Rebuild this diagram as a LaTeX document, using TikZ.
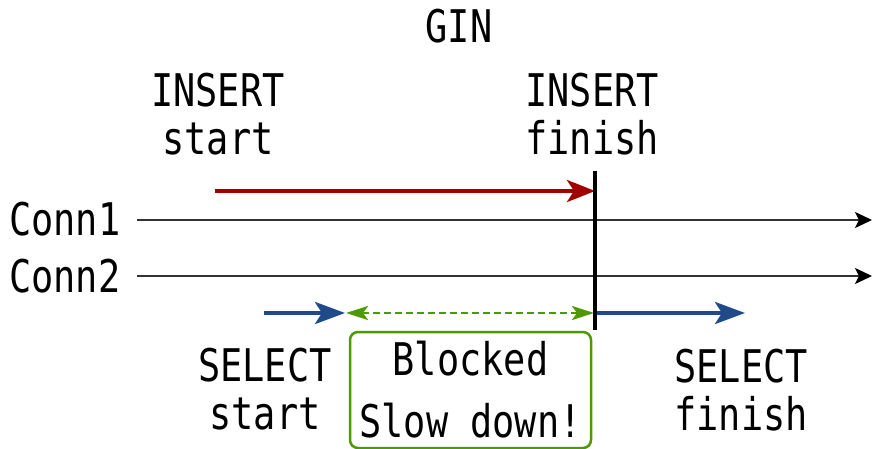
\documentclass[tikz,border=0pt]{standalone}
\usepackage{fontspec}
\usetikzlibrary{arrows.meta}
\newfontfamily\labelfont[FakeStretch=0.82]{DejaVu Sans Mono}
\definecolor{insred}{HTML}{A00000}
\definecolor{selblue}{HTML}{1F4A8A}
\definecolor{blockgreen}{HTML}{4E9A06}
\definecolor{connline}{HTML}{333333}
\tikzset{
  lbl/.style={font=\labelfont\fontsize{45}{48}\selectfont, inner sep=0pt, align=center, anchor=base},
  connarrow/.style={draw=connline, line width=2pt, -{Stealth[length=17pt,width=16pt,inset=4pt,color=black]}},
  insarrow/.style={draw=insred, line width=4pt, -{Stealth[length=28pt,width=22pt,inset=7pt]}},
  selarrow/.style={draw=selblue, line width=4pt, -{Stealth[length=30pt,width=22pt,inset=7pt]}},
  waitarrow/.style={draw=blockgreen, line width=2.5pt, dash pattern=on 7pt off 4pt,
    {Stealth[length=22pt,width=14pt,inset=5pt]}-{Stealth[length=22pt,width=14pt,inset=5pt]}},
  blockbox/.style={draw=blockgreen, line width=2.5pt, rounded corners=8pt, fill=white,
    minimum width=241pt, minimum height=116pt, inner sep=0pt,
    font=\labelfont\fontsize{45}{48}\selectfont, align=center},
}
\begin{document}
\begin{tikzpicture}[x=1pt, y=-1pt]
  \useasboundingbox (0,0) rectangle (872,449);

  % titles and labels (base anchor sits on the last line)
  \node[lbl] (gin) at (459,43) {GIN};
  \node[lbl] (insstart) at (218,155) {INSERT\\start};
  \node[lbl] (insfinish) at (592,155) {INSERT\\finish};
  \node[lbl, anchor=base west] (conn1) at (9,235) {Conn1};
  \node[lbl, anchor=base west] (conn2) at (9,292) {Conn2};
  \node[lbl] (selstart) at (265,429) {SELECT\\start};
  \node[lbl] (selfinish) at (741,430) {SELECT\\finish};

  % end points of the timelines and arrows
  \coordinate (c1a) at (137,220);
  \coordinate (c1b) at (872,220);
  \coordinate (c2a) at (137,276);
  \coordinate (c2b) at (872,276);
  \coordinate (insA) at (215,191);
  \coordinate (insB) at (595,191);
  \coordinate (barTop) at (595,171);
  \coordinate (barBot) at (595,330);
  \coordinate (selA) at (264,313);
  \coordinate (selB) at (345,313);
  \coordinate (waitA) at (346,313);
  \coordinate (waitB) at (594,313);
  \coordinate (selC) at (595,313);
  \coordinate (selD) at (745,313);

  % connection timelines
  \draw[connarrow] (c1a) -- (c1b);
  \draw[connarrow] (c2a) -- (c2b);

  % insert span
  \draw[insarrow] (insA) -- (insB);

  % select before and after the block
  \draw[selarrow] (selA) -- (selB);
  \draw[selarrow] (selC) -- (selD);

  % waiting interval
  \draw[waitarrow] (waitA) -- (waitB);

  % commit bar
  \draw[black, line width=4pt] (barTop) -- (barBot);

  % blocked box
  \node[blockbox] (blocked) at (470.5,390) {Blocked\\[14pt]Slow down!};
\end{tikzpicture}
\end{document}
